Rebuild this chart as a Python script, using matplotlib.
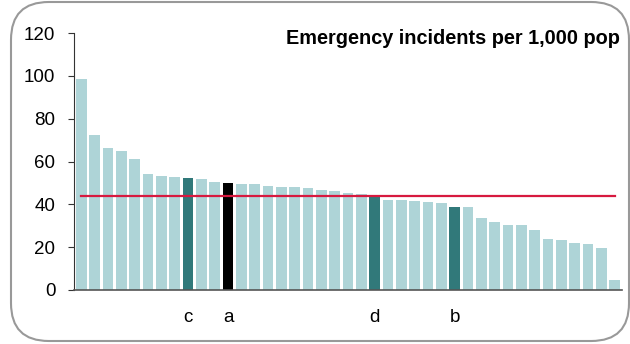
import matplotlib
matplotlib.use("Agg")
import matplotlib.pyplot as plt
from matplotlib.patches import FancyBboxPatch

plt.rcParams['font.family'] = ['Liberation Sans', 'DejaVu Sans']

values = [98.3, 72.3, 66.4, 64.7, 61.1, 54.1, 53.2, 52.7, 52.4, 51.8,
          50.4, 49.9, 49.4, 49.4, 48.5, 48.0, 47.9, 47.7, 46.5, 46.0,
          45.2, 44.8, 44.0, 42.0, 42.0, 41.5, 40.9, 40.4, 38.6, 38.6,
          33.6, 31.6, 30.3, 30.2, 28.0, 23.8, 23.3, 21.9, 21.3, 19.4, 4.7]
highlight = {8: 'c', 11: 'a', 22: 'd', 28: 'b'}
highlight_colors = {8: '#31797a', 11: '#000000', 22: '#31797a', 28: '#31797a'}
average = 43.8
title = "Emergency incidents per 1,000 pop"
yticks = [0, 20, 40, 60, 80, 100, 120]

W, H = 630, 344
fig = plt.figure(figsize=(W / 100, H / 100), dpi=100)

# rounded border
border = FancyBboxPatch((11 / W, 3 / H), (629 - 11) / W, (342 - 3) / H,
                        boxstyle="round,pad=0,rounding_size=0.06",
                        transform=fig.transFigure, facecolor='none',
                        edgecolor='#999999', linewidth=1.5,
                        mutation_aspect=W / H, zorder=-1)
fig.patches.append(border)

ax = fig.add_axes([74 / W, (H - 290) / H, (622 - 74) / W, (290 - 33) / H])
ax.patch.set_alpha(0)

x = list(range(len(values)))
colors = [highlight_colors.get(i, '#aed4d7') for i in x]
ax.bar(x, values, width=0.8, color=colors, edgecolor='none', zorder=2)
ax.plot([0, len(values) - 1], [average, average], color='#d7193f',
        linewidth=1.6, zorder=3)

ax.set_xlim(-0.55, len(values) - 0.45)
ax.set_ylim(0, 120)
ax.set_yticks(yticks)
ax.set_yticklabels([str(t) for t in yticks], fontsize=13.5)
ax.tick_params(axis='y', length=4.5, width=0.8, color='#333333', pad=9)

hx = sorted(highlight)
ax.set_xticks(hx)
ax.set_xticklabels([highlight[i] for i in hx], fontsize=13.5)
ax.tick_params(axis='x', length=0, pad=14)

for s in ['top', 'right']:
    ax.spines[s].set_visible(False)
ax.spines['left'].set_color('#333333')
ax.spines['left'].set_linewidth(0.8)
ax.spines['bottom'].set_color('#555555')
ax.spines['bottom'].set_linewidth(1.2)

fig.text(620 / W, (H - 38) / H, title, ha='right', va='center',
         fontsize=14.3, fontweight='bold')

fig.savefig('out.png', dpi=100)
